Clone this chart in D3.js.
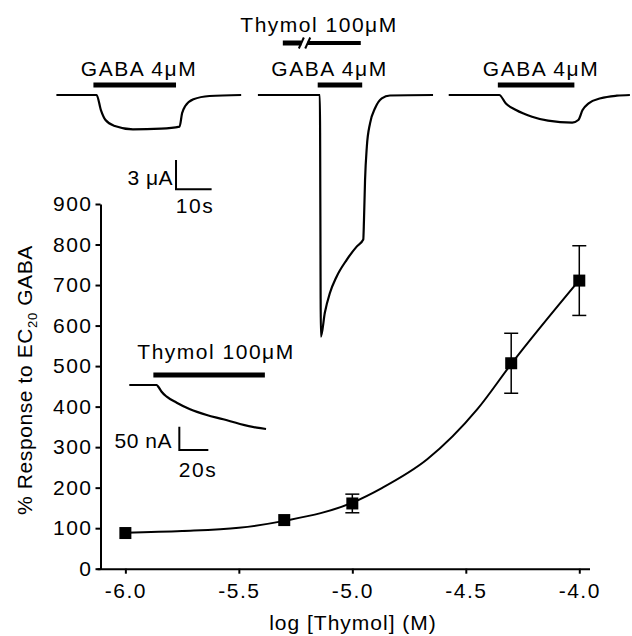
<!DOCTYPE html>
<html>
<head>
<meta charset="utf-8">
<script src="https://cdn.jsdelivr.net/npm/d3@7"></script>
<style>
  body { margin: 0; background: #fff; }
  text { font-family: "Liberation Sans", Arial, sans-serif; fill: #000; }
</style>
</head>
<body>
<div id="chart"></div>
<script>
// dose-response data (log M, % of EC20 GABA response)
var logDose = [-6.0, -5.3, -5.0, -4.3, -4.0];
var response = [88, 120, 161, 507, 711];
var sem = [0, 0, 23, 74, 86];

// fitted curve
var fitX = [-6.0, -5.75, -5.5, -5.3, -5.0, -4.87, -4.67, -4.45, -4.3, -4.0];
var fitY = [89, 93, 101, 118, 163, 199, 270, 393, 505, 712];

var xTicks = [-6.0, -5.5, -5.0, -4.5, -4.0];
var yTicks = [0, 100, 200, 300, 400, 500, 600, 700, 800, 900];

// top current traces: time (s), current (uA)
var trace1T = [0, 11.3, 12.5, 13.8, 16.4, 21.5, 29.4, 34.6, 35.3, 36.2, 38.5, 43.0, 51.9];
var trace1I = [0, 0, -1.54, -2.56, -3.17, -3.51, -3.45, -3.24, -1.87, -1.13, -0.44, -0.10, 0];
var trace2T = [56.6, 74.0, 74.3, 75.4, 76.8, 78.7, 81.5, 84.4, 86.2, 86.4, 86.7, 87.2, 88.1, 89.5, 91.4, 93.7, 105.8];
var trace2I = [0, 0, -24.74, -22.3, -20.3, -18.6, -16.9, -15.5, -14.8, -12.8, -8.7, -5.3, -2.9, -1.36, -0.34, -0.05, 0];
var trace3T = [110.2, 124.4, 126.2, 129.1, 133.6, 138.1, 144.9, 146.6, 147.8, 149.5, 152.9, 157.4, 161.1];
var trace3I = [0, 0, -0.85, -1.54, -2.22, -2.63, -2.83, -2.56, -1.54, -0.85, -0.34, -0.07, 0];

// application bars (s)
var gabaBars = [[10.4, 33.6], [73.4, 85.9], [124.0, 145.5]];
var thymolBar = [63.6, 85.5];
var thymolBreak = [68.8, 70.6];

// lower inset trace: time (s), current (nA)
var insetT = [0, 18.9, 20.0, 22.3, 25.8, 32.7, 41.9, 53.4, 64.8, 76.3, 87.9, 94.3];
var insetI = [0, 0, -3.6, -14.4, -25.1, -38, -52.1, -64.4, -73.6, -83.7, -91.6, -94.4];
var insetBar = [16.6, 93.5];

var svgWidth = 632;
var svgHeight = 636;

var svg = d3.select("#chart")
  .append("svg")
  .attr("width", svgWidth)
  .attr("height", svgHeight);

// ---------- main dose-response plot ----------
var x = d3.scaleLinear().domain([-6.125, -3.955]).range([97, 589.5]);
var y = d3.scaleLinear().domain([0, 900]).range([568.7, 204]);

var xAxis = d3.axisBottom(x).tickValues(xTicks).tickFormat(d3.format(".1f"))
  .tickSize(5).tickSizeOuter(0).tickPadding(9);
var yAxis = d3.axisLeft(y).tickValues(yTicks).tickSize(5).tickSizeOuter(0).tickPadding(3);

var gx = svg.append("g")
  .attr("transform", "translate(0," + y(0) + ")")
  .call(xAxis);
var gy = svg.append("g")
  .attr("transform", "translate(100.5,0)")
  .call(yAxis);

[gx, gy].forEach(function(g) {
  g.selectAll("path, line").attr("stroke", "#000").attr("stroke-width", 2);
  g.selectAll("text")
    .attr("font-size", "21px")
    .attr("letter-spacing", "1.5px")
    .attr("fill", "#000");
});
gx.selectAll("text").text(function(d) { return d.toFixed(1); });

// axis titles
svg.append("text")
  .attr("transform", "translate(32,380) rotate(-90)")
  .attr("text-anchor", "middle")
  .attr("font-size", "21px")
  .attr("letter-spacing", "0.6px")
  .html('% Response to EC<tspan font-size="13px" dy="5">20</tspan><tspan dy="-5"> GABA</tspan>');

svg.append("text")
  .attr("x", 353)
  .attr("y", 630)
  .attr("text-anchor", "middle")
  .attr("font-size", "21px")
  .attr("letter-spacing", "1px")
  .text("log [Thymol] (M)");

// fitted curve
var fitLine = d3.line()
  .x(function(d, i) { return x(fitX[i]); })
  .y(function(d, i) { return y(fitY[i]); })
  .curve(d3.curveMonotoneX);

svg.append("path")
  .datum(fitX)
  .attr("d", fitLine)
  .attr("fill", "none")
  .attr("stroke", "#000")
  .attr("stroke-width", 2);

// error bars
var errGroup = svg.append("g").attr("stroke", "#000").attr("stroke-width", 1.5);
logDose.forEach(function(d, i) {
  if (!sem[i]) return;
  var cx = x(d);
  errGroup.append("line")
    .attr("x1", cx).attr("x2", cx)
    .attr("y1", y(response[i] - sem[i])).attr("y2", y(response[i] + sem[i]));
  [response[i] - sem[i], response[i] + sem[i]].forEach(function(v) {
    errGroup.append("line")
      .attr("x1", cx - 7).attr("x2", cx + 7)
      .attr("y1", y(v)).attr("y2", y(v));
  });
});

// squares
svg.selectAll("rect.pt")
  .data(logDose)
  .enter()
  .append("rect")
  .attr("class", "pt")
  .attr("x", function(d) { return x(d) - 6; })
  .attr("y", function(d, i) { return y(response[i]) - 6; })
  .attr("width", 12)
  .attr("height", 12)
  .attr("fill", "#000");

// ---------- top current traces ----------
var tX = d3.scaleLinear().domain([0, 10]).range([56.4, 92.0]);
var tY = d3.scaleLinear().domain([0, -3]).range([95, 124.3]);

function drawTrace(ts, is, sx, sy) {
  var line = d3.line()
    .x(function(d, i) { return sx(ts[i]); })
    .y(function(d, i) { return sy(is[i]); })
    .curve(d3.curveMonotoneX);
  svg.append("path")
    .datum(ts)
    .attr("d", line)
    .attr("fill", "none")
    .attr("stroke", "#000")
    .attr("stroke-width", 2.2);
}

drawTrace(trace1T, trace1I, tX, tY);
drawTrace(trace2T, trace2I, tX, tY);
drawTrace(trace3T, trace3I, tX, tY);

// GABA bars + labels
gabaBars.forEach(function(b) {
  svg.append("line")
    .attr("x1", tX(b[0])).attr("x2", tX(b[1]))
    .attr("y1", 85).attr("y2", 85)
    .attr("stroke", "#000").attr("stroke-width", 5);
});
[139, 329.5, 541].forEach(function(cx) {
  svg.append("text")
    .attr("x", cx).attr("y", 76)
    .attr("text-anchor", "middle")
    .attr("font-size", "21px")
    .attr("letter-spacing", "1.5px")
    .text("GABA 4\u03bcM");
});

// broken thymol bar
svg.append("line")
  .attr("x1", tX(thymolBar[0])).attr("x2", tX(thymolBreak[0]))
  .attr("y1", 43).attr("y2", 43)
  .attr("stroke", "#000").attr("stroke-width", 5);
svg.append("line")
  .attr("x1", tX(thymolBreak[1])).attr("x2", tX(thymolBar[1]))
  .attr("y1", 43).attr("y2", 43)
  .attr("stroke", "#000").attr("stroke-width", 4);
thymolBreak.forEach(function(t) {
  svg.append("line")
    .attr("x1", tX(t) - 2.5).attr("x2", tX(t) + 2.5)
    .attr("y1", 48.5).attr("y2", 37.5)
    .attr("stroke", "#000").attr("stroke-width", 2);
});
svg.append("text")
  .attr("x", 319).attr("y", 32)
  .attr("text-anchor", "middle")
  .attr("font-size", "21px")
  .attr("letter-spacing", "1.5px")
  .text("Thymol 100\u03bcM");

// scale bar 3 uA / 10 s
var sbT = 33.6, sbI = -9.65;
svg.append("path")
  .attr("d", "M" + tX(sbT) + "," + tY(sbI + 3) + "V" + tY(sbI) + "H" + tX(sbT + 10))
  .attr("fill", "none").attr("stroke", "#000").attr("stroke-width", 2);
svg.append("text")
  .attr("x", 173).attr("y", 185)
  .attr("text-anchor", "end")
  .attr("font-size", "21px")
  .attr("letter-spacing", "0.5px")
  .text("3 \u03bcA");
svg.append("text")
  .attr("x", 195).attr("y", 213)
  .attr("text-anchor", "middle")
  .attr("font-size", "21px")
  .attr("letter-spacing", "1.5px")
  .text("10s");

// ---------- lower inset ----------
var iX = d3.scaleLinear().domain([0, 20]).range([129.3, 158.3]);
var iY = d3.scaleLinear().domain([0, -50]).range([385, 408.3]);

drawTrace(insetT, insetI, iX, iY);

svg.append("line")
  .attr("x1", iX(insetBar[0])).attr("x2", iX(insetBar[1]))
  .attr("y1", 375).attr("y2", 375)
  .attr("stroke", "#000").attr("stroke-width", 5);
svg.append("text")
  .attr("x", 216).attr("y", 359)
  .attr("text-anchor", "middle")
  .attr("font-size", "21px")
  .attr("letter-spacing", "1.5px")
  .text("Thymol 100\u03bcM");

var sb2T = 34.5, sb2I = -139.5;
svg.append("path")
  .attr("d", "M" + iX(sb2T) + "," + iY(sb2I + 50) + "V" + iY(sb2I) + "H" + iX(sb2T + 20))
  .attr("fill", "none").attr("stroke", "#000").attr("stroke-width", 2);
svg.append("text")
  .attr("x", 172).attr("y", 448)
  .attr("text-anchor", "end")
  .attr("font-size", "21px")
  .attr("letter-spacing", "0.5px")
  .text("50 nA");
svg.append("text")
  .attr("x", 198).attr("y", 476.5)
  .attr("text-anchor", "middle")
  .attr("font-size", "21px")
  .attr("letter-spacing", "1.5px")
  .text("20s");
</script>
</body>
</html>
